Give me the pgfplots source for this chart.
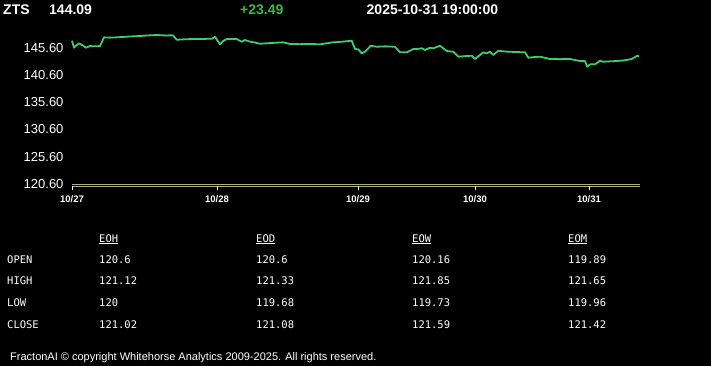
\documentclass[border=0pt]{standalone}
\usepackage{pgfplots}
\pgfplotsset{compat=1.18}
\usepackage{fontspec}
\setmainfont{Liberation Sans}
\newfontfamily\mono{DejaVu Sans Mono}
\definecolor{linegreen}{RGB}{60,205,110}
\definecolor{chggreen}{RGB}{60,185,60}
\definecolor{axisolive}{RGB}{175,175,125}
\begin{document}
\begin{tikzpicture}
\fill[black] (0pt,0pt) rectangle (711pt,-366pt);
\useasboundingbox (0pt,0pt) rectangle (711pt,-366pt);
% header
\node[anchor=base west, inner sep=0pt, text=white, font=\fontsize{14}{16}\selectfont\bfseries] at (3pt,-14.5pt) {ZTS};
\node[anchor=base west, inner sep=0pt, text=white, font=\fontsize{14}{16}\selectfont\bfseries] at (49pt,-14.5pt) {144.09};
\node[anchor=base west, inner sep=0pt, text=chggreen, font=\fontsize{14}{16}\selectfont\bfseries] at (240pt,-14.5pt) {+23.49};
\node[anchor=base west, inner sep=0pt, text=white, font=\fontsize{14}{16}\selectfont\bfseries] at (366.5pt,-14.5pt) {2025-10-31 19:00:00};
\begin{axis}[
  at={(72pt,-184pt)}, anchor=south west,
  scale only axis, width=568pt, height=154pt,
  xmin=72, xmax=640, ymin=120.6, ymax=148.85,
  axis line style={draw=none},
  major tick style={draw=none},
  axis x line*=bottom, axis y line*=left,
  clip=false,
  ytick={120.6,125.6,130.6,135.6,140.6,145.6},
  yticklabels={120.60,125.60,130.60,135.60,140.60,145.60},
  xtick={72,217,358,475,589},
  xticklabels={10/27,10/28,10/29,10/30,10/31},
  /pgf/number format/assume math mode=true,
  yticklabel style={text=white, font=\fontsize{13}{15}\selectfont, anchor=east, xshift=-5pt},
  xticklabel style={text=white, font=\fontsize{9.5}{11}\selectfont\bfseries, anchor=north, yshift=-8pt},
]
\draw[axisolive, line width=0.6pt] (rel axis cs:0,0) -- (rel axis cs:1,0);
\draw[axisolive, line width=0.6pt] ([yshift=-2pt]rel axis cs:0,0) -- ([yshift=-2pt]rel axis cs:1,0);
\pgfplotsinvokeforeach{72,217,358,475,589}{
  \draw[white, line width=0.8pt] ([yshift=-2pt]axis cs:#1,120.6) -- ([yshift=-6pt]axis cs:#1,120.6);
}
\addplot[linegreen, line width=1.8pt, line join=round] coordinates {
(72,146.88) (74,145.60) (76,146.0) (79.3,146.40) (82,146.1) (86,145.60) (90,145.91) (95,145.85) (100,145.91)
(104,147.50) (110,147.45) (116.7,147.50) (125,147.6) (133,147.69) (140,147.75) (148,147.85) (156.7,147.93)
(165,147.85) (173,147.87) (176.7,147.06) (185,147.15) (193,147.19) (200,147.2) (212,147.25) (215,147.61)
(220,146.22) (223,146.8) (226.7,147.19) (236.7,147.19) (241.7,146.70) (245,147.01) (250,146.70) (255,146.55)
(260,146.33) (270,146.45) (283,146.59) (290,146.28) (300,146.25) (310,146.3) (320,146.22) (333,146.59)
(342,146.7) (351.7,146.88) (355,145.36) (358.3,145.30) (361.7,144.57) (365,144.86) (370.7,145.96)
(376.7,145.78) (385,145.85) (395,145.78) (400,144.75) (406.7,144.75) (413.3,145.36) (416.7,145.36)
(421.7,145.49) (425,145.18) (430,145.60) (433.3,145.49) (440,145.96) (446.7,144.99) (453.3,144.86)
(458.3,143.95) (465,144.05) (471.7,144.13) (475,143.53) (483.3,144.75) (486.7,144.57) (490,144.86)
(493.3,144.26) (498.3,145.05) (505,144.9) (510,144.86) (518,144.8) (525,144.75) (528.3,143.76) (535,143.9)
(540,143.95) (550,143.53) (560,143.5) (570,143.53) (580,143.16) (585,143.16) (587.3,142.11) (590,142.55)
(595,142.55) (600,143.21) (603.3,143.03) (610,143.1) (616.7,143.16) (625,143.3) (631.7,143.53)
(637.3,144.13) (639,144.07)
};
\end{axis}
% table
\begin{scope}[every node/.style={anchor=base west, inner sep=0pt, text=white, font=\mono\fontsize{10.5}{12}\selectfont}]
\node at (99pt,-242pt) {\underline{EOH}};
\node at (256pt,-242pt) {\underline{EOD}};
\node at (412pt,-242pt) {\underline{EOW}};
\node at (568pt,-242pt) {\underline{EOM}};
\node at (7pt,-263pt) {OPEN};
\node at (7pt,-284pt) {HIGH};
\node at (7pt,-306pt) {LOW};
\node at (7pt,-328pt) {CLOSE};
\node at (99pt,-263pt) {120.6};
\node at (256pt,-263pt) {120.6};
\node at (412pt,-263pt) {120.16};
\node at (568pt,-263pt) {119.89};
\node at (99pt,-284pt) {121.12};
\node at (256pt,-284pt) {121.33};
\node at (412pt,-284pt) {121.85};
\node at (568pt,-284pt) {121.65};
\node at (99pt,-306pt) {120};
\node at (256pt,-306pt) {119.68};
\node at (412pt,-306pt) {119.73};
\node at (568pt,-306pt) {119.96};
\node at (99pt,-328pt) {121.02};
\node at (256pt,-328pt) {121.08};
\node at (412pt,-328pt) {121.59};
\node at (568pt,-328pt) {121.42};
\end{scope}
% footer
\node[anchor=base west, inner sep=0pt, text=white, font=\fontsize{11}{13}\selectfont] at (10pt,-360pt) {FractonAI \textcopyright\ copyright Whitehorse Analytics 2009-2025. All rights reserved.};
\end{tikzpicture}
\end{document}
